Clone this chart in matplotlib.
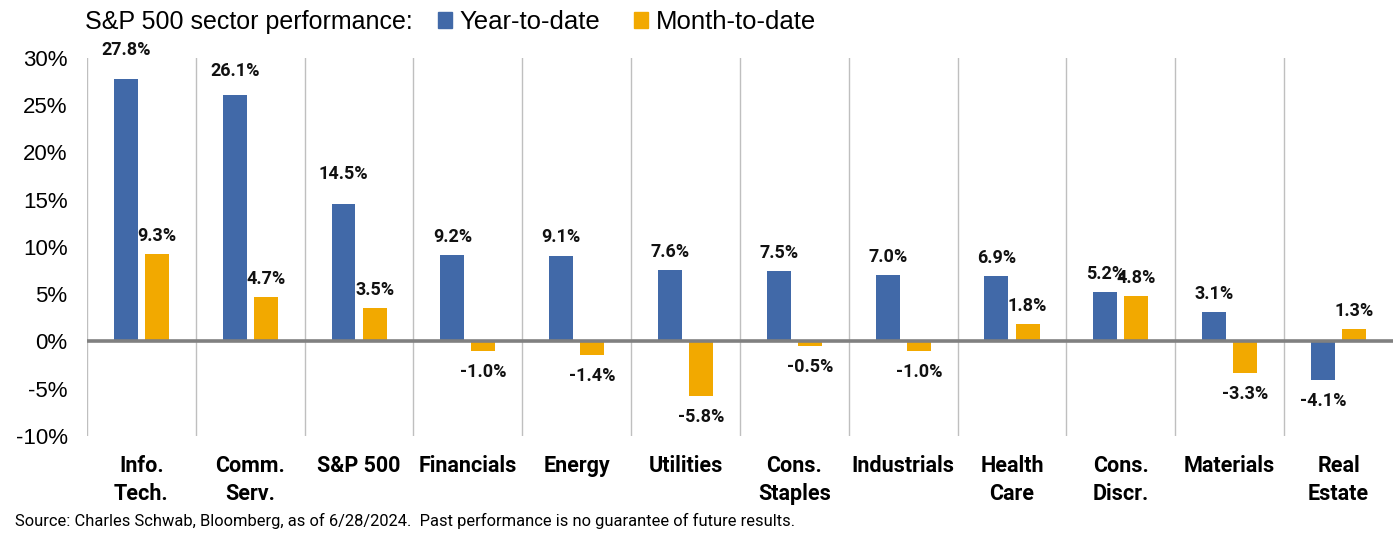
import numpy as np
import matplotlib
matplotlib.use('Agg')
import matplotlib.pyplot as plt
from matplotlib.patches import Patch

# Данные графика
sectors = ['Info.\nTech.', 'Comm.\nServ.', 'S&P 500', 'Financials', 'Energy', 'Utilities',
           'Cons.\nStaples', 'Industrials', 'Health\nCare', 'Cons.\nDiscr.', 'Materials', 'Real\nEstate']
ytd = [27.8, 26.1, 14.5, 9.2, 9.1, 7.6, 7.5, 7.0, 6.9, 5.2, 3.1, -4.1]
mtd = [9.3, 4.7, 3.5, -1.0, -1.4, -5.8, -0.5, -1.0, 1.8, 4.8, -3.3, 1.3]
series_names = ['Year-to-date', 'Month-to-date']
yticks = [-10, -5, 0, 5, 10, 15, 20, 25, 30]

BLUE = '#4169A8'
ORANGE = '#F2A900'
LABEL_FONT = 'Roboto'
BASE_FONT = 'Liberation Sans'

fig = plt.figure(figsize=(13.96, 5.4), dpi=100)
ax = fig.add_axes([0.0623, 0.1926, 0.9355, 0.70])

x = np.arange(len(sectors))
off = 0.143
w = 0.22
ax.bar(x - off, ytd, width=w, color=BLUE, zorder=3)
ax.bar(x + off, mtd, width=w, color=ORANGE, zorder=3)

# подписи значений (некоторые в оригинале сдвинуты вручную), отступы в пунктах
ytd_shift = {0: 8, 1: 4.3, 2: 9}
for i, (a, b) in enumerate(zip(ytd, mtd)):
    for xpos, v, extra in ((x[i] - off, a, ytd_shift.get(i, 0)), (x[i] + off, b, 0)):
        dy = (13 + extra) if v >= 0 else -15
        ax.annotate(f'{v:.1f}%', (xpos, v), xytext=(0, dy), textcoords='offset points',
                    ha='center', va='center', fontsize=13, fontweight='bold',
                    family=LABEL_FONT, color='#111111', zorder=5)

# разделители категорий
for b in np.arange(-0.5, len(sectors) - 1, 1.0):
    ax.axvline(b, color='#BFBFBF', lw=1, zorder=1)
ax.axhline(0, color='#808080', lw=2.6, zorder=4)

ax.set_xlim(-0.5, len(sectors) - 0.5)
ax.set_ylim(-10, 30)
ax.set_yticks(yticks)
ax.set_yticklabels([f'{t}%' for t in yticks], fontsize=16, family=BASE_FONT)
ax.set_xticks(x)
ax.set_xticklabels(sectors, fontsize=15.5, fontweight='bold', family=LABEL_FONT,
                   va='top', linespacing=1.35)
ax.tick_params(axis='both', length=0)
ax.tick_params(axis='x', pad=14)
ax.tick_params(axis='y', pad=14)
for s in ax.spines.values():
    s.set_visible(False)

fig.text(85 / 1396, 1 - 22 / 540, 'S&P 500 sector performance:', fontsize=18,
         family=BASE_FONT, va='center', ha='left')
handles = [Patch(color=BLUE), Patch(color=ORANGE)]
fig.legend(handles, series_names, loc='center left', bbox_to_anchor=(438 / 1396, 1 - 22 / 540),
           ncol=2, frameon=False, prop={'family': BASE_FONT, 'size': 18.5},
           handlelength=0.55, handleheight=0.55, handletextpad=0.3, columnspacing=1.3,
           borderpad=0, borderaxespad=0)

fig.text(15 / 1396, 1 - 521 / 540,
         'Source: Charles Schwab, Bloomberg, as of 6/28/2024.  Past performance is no guarantee of future results.',
         fontsize=11.9, family=LABEL_FONT, va='center', ha='left')

fig.savefig('out.png', dpi=100)
